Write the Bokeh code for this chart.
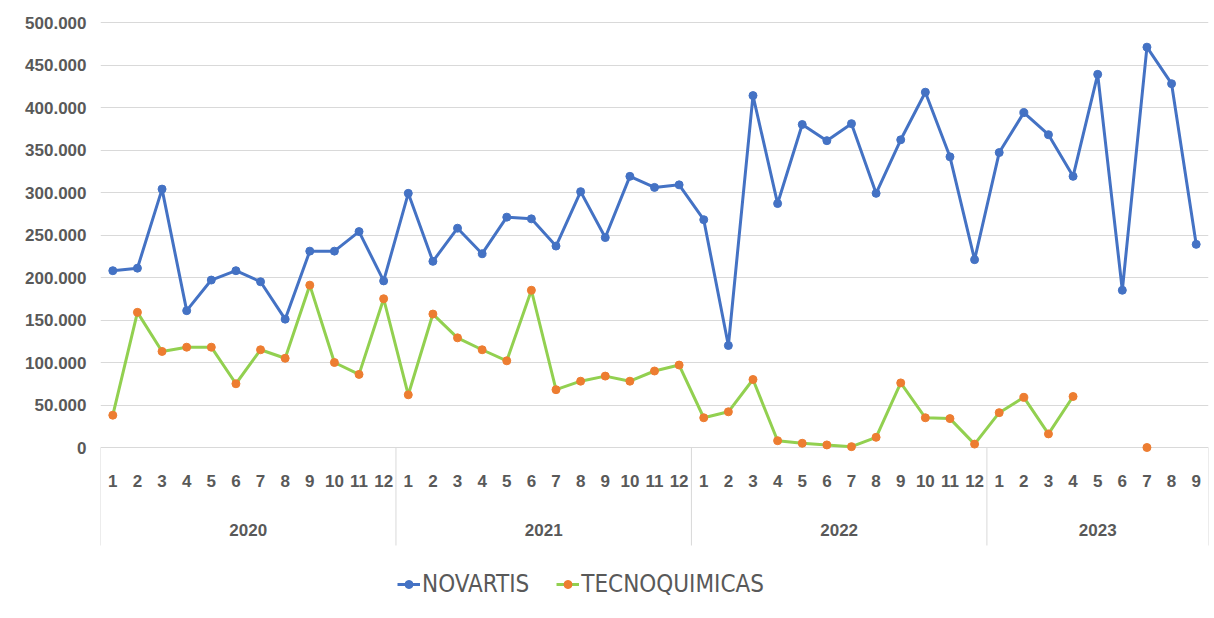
import numpy as np
from bokeh.plotting import figure
from bokeh.models import (ColumnDataSource, Range1d, FixedTicker, CustomJSTickFormatter,
                          Legend, LegendItem)
from bokeh.core.properties import value
from bokeh.embed import file_html
from bokeh.resources import INLINE

nan = np.nan

# ---------------- data ----------------
years = ["2020", "2021", "2022", "2023"]
months_per_year = [12, 12, 12, 9]
month_labels = [str(m) for n in months_per_year for m in range(1, n + 1)]

novartis = [208, 211, 304, 161, 197, 208, 195, 151, 231, 231, 254, 196,
            299, 219, 258, 228, 271, 269, 237, 301, 247, 319, 306, 309,
            268, 120, 414, 287, 380, 361, 381, 299, 362, 418, 342, 221,
            347, 394, 368, 319, 439, 185, 471, 428, 239]
tecnoquimicas = [38, 159, 113, 118, 118, 75, 115, 105, 191, 100, 86, 175,
                 62, 157, 129, 115, 102, 185, 68, 78, 84, 78, 90, 97,
                 35, 42, 80, 8, 5, 3, 1, 12, 76, 35, 34, 4,
                 41, 59, 16, 60, nan, nan, 0, nan, nan]
y_ticks = [0, 50000, 100000, 150000, 200000, 250000, 300000, 350000, 400000, 450000, 500000]

n = len(month_labels)
idx = list(range(n))
src = ColumnDataSource(dict(
    x=idx,
    nov=np.array(novartis, dtype=float) * 1000,
    tec=np.array(tecnoquimicas, dtype=float) * 1000,
    month=month_labels,
))

# ---------------- styling constants ----------------
BLUE = "#4472C4"
GREEN = "#92D050"
ORANGE = "#ED7D31"
GRID = "#D9D9D9"
TXT = "#595959"
FONT = "Liberation Sans"
LEGEND_FONT = "'DejaVu Sans Condensed', 'Liberation Sans Narrow', 'Liberation Sans'"

W, H = 1210, 610
TOP, LEFT, RIGHT = 14, 100, 2
frame_h = H - TOP
px_per_unit = 0.85 / 1000          # vertical scale of the value axis
zero_px = 447 - TOP                # distance of the zero line below frame top
y_top = zero_px / px_per_unit
y_bot = y_top - frame_h / px_per_unit

p = figure(width=W, height=H, output_backend="svg", toolbar_location=None,
           x_range=Range1d(-0.5, n - 0.5), y_range=Range1d(y_bot, y_top),
           x_axis_location=None, title=None,
           min_border_left=LEFT, min_border_right=RIGHT,
           min_border_top=TOP, min_border_bottom=0)
p.outline_line_color = None
p.background_fill_color = "white"
p.border_fill_color = "white"
p.xgrid.visible = False

yax = p.yaxis[0]
yax.ticker = FixedTicker(ticks=y_ticks)
yax.formatter = CustomJSTickFormatter(code=r"""
    return tick === 0 ? '0' : tick.toFixed(0).replace(/\B(?=(\d{3})+(?!\d))/g, '.');
""")
yax.axis_line_color = None
yax.major_tick_line_color = None
yax.minor_tick_line_color = None
yax.major_tick_out = 0
yax.major_tick_in = 0
yax.major_label_standoff = 14
yax.major_label_text_font = FONT
yax.major_label_text_font_size = "17px"
yax.major_label_text_font_style = "bold"
yax.major_label_text_color = TXT

p.ygrid.grid_line_color = GRID
p.ygrid.grid_line_width = 1

# category separators (year boundaries)
bounds = [-0.5]
acc = -0.5
for m in months_per_year:
    acc += m
    bounds.append(acc)
sep_bottom = -98 / px_per_unit
p.segment(x0=bounds, y0=[0] * len(bounds), x1=bounds, y1=[sep_bottom] * len(bounds),
          line_color=GRID, line_width=1)

# month labels
p.text(x="x", y=0, text="month", source=src, y_offset=33,
       text_align="center", text_baseline="middle",
       text_font=value(FONT), text_font_size="17px", text_font_style="bold",
       text_color=TXT)

# year labels
centers = [(bounds[i] + bounds[i + 1]) / 2 for i in range(len(years))]
p.text(x=centers, y=[0] * len(years), text=years, y_offset=82,
       text_align="center", text_baseline="middle",
       text_font=value(FONT), text_font_size="17px", text_font_style="bold",
       text_color=TXT)

# series
l1 = p.line("x", "nov", source=src, line_color=BLUE, line_width=3)
s1 = p.scatter("x", "nov", source=src, size=8, fill_color=BLUE, line_color=BLUE)
l2 = p.line("x", "tec", source=src, line_color=GREEN, line_width=3)
s2 = p.scatter("x", "tec", source=src, size=8, fill_color=ORANGE, line_color=ORANGE)

legend = Legend(items=[LegendItem(label="NOVARTIS", renderers=[l1, s1]),
                       LegendItem(label="TECNOQUIMICAS", renderers=[l2, s2])],
                location=(297, 12), orientation="horizontal",
                label_text_font=LEGEND_FONT, label_text_font_size="24px",
                label_text_color=TXT, glyph_width=23, glyph_height=20,
                label_standoff=2, spacing=27, padding=0, margin=0,
                border_line_color=None, background_fill_alpha=0)
p.add_layout(legend)

open("out.html", "w").write(file_html(p, INLINE))
